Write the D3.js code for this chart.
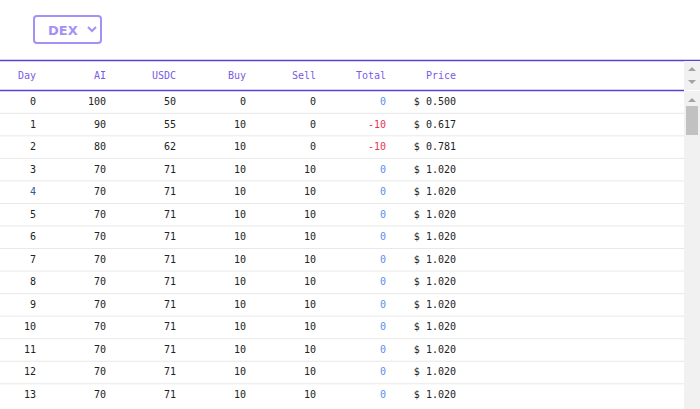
<!DOCTYPE html>
<html><head><meta charset="utf-8">
<script src="https://cdn.jsdelivr.net/npm/d3@7"></script>
<style>body{margin:0;background:#fff}</style>
</head><body>
<script>
// table data
var columns = ["Day","AI","USDC","Buy","Sell","Total","Price"];
var days  = [0,1,2,3,4,5,6,7,8,9,10,11,12,13];
var ai    = [100,90,80,70,70,70,70,70,70,70,70,70,70,70];
var usdc  = [50,55,62,71,71,71,71,71,71,71,71,71,71,71];
var buy   = [0,10,10,10,10,10,10,10,10,10,10,10,10,10];
var sell  = [0,0,0,10,10,10,10,10,10,10,10,10,10,10];
var total = [0,-10,-10,0,0,0,0,0,0,0,0,0,0,0];
var price = [0.500,0.617,0.781,1.020,1.020,1.020,1.020,1.020,1.020,1.020,1.020,1.020,1.020,1.020];

var W = 700, H = 409;
var svg = d3.select("body").append("svg").attr("width",W).attr("height",H);
var mono = "'DejaVu Sans Mono', monospace";

// dropdown
svg.append("rect").attr("x",34).attr("y",16).attr("width",67).attr("height",27).attr("rx",3)
  .attr("fill","#fff").attr("stroke","#a590f7").attr("stroke-width",2);
svg.append("text").attr("x",48).attr("y",35).text("DEX")
  .attr("font-family","'DejaVu Sans', sans-serif").attr("font-weight","bold").attr("font-size",13).attr("fill","#a590f7");
svg.append("path").attr("d","M88,27 l4,4 l4,-4").attr("fill","none").attr("stroke","#a590f7").attr("stroke-width",2);

// column right edges
var x = d3.scalePoint().domain(columns).range([36,456]);
var y = d3.scaleLinear().domain([0,13]).range([101,394]);

svg.append("line").attr("x1",0).attr("x2",W).attr("y1",60.5).attr("y2",60.5).attr("stroke","#5b3fd6").attr("stroke-width",1.5);
svg.append("line").attr("x1",0).attr("x2",684).attr("y1",90.5).attr("y2",90.5).attr("stroke","#5b3fd6").attr("stroke-width",1.5);

svg.selectAll(".hd").data(columns).enter().append("text")
  .attr("x",function(d){return x(d);}).attr("y",79).attr("text-anchor","end")
  .attr("font-family",mono).attr("font-size",10).attr("fill","#7a5ae6").text(function(d){return d;});

var rows = days.map(function(d,i){
  return {i:i, vals:[d,ai[i],usdc[i],buy[i],sell[i],total[i],"$ "+price[i].toFixed(3)]};
});

var g = svg.selectAll(".row").data(rows).enter().append("g")
  .attr("transform",function(d){return "translate(0,"+y(d.i)+")";});
g.filter(function(d){return d.i<13;}).append("line").attr("x1",0).attr("x2",684).attr("y1",12.3).attr("y2",12.3)
  .attr("stroke","#e8e8e8");
g.selectAll("text").data(function(d){return d.vals.map(function(v,k){return {v:v,k:k,r:d.i};});})
  .enter().append("text")
  .attr("x",function(d){return x(columns[d.k]);}).attr("y",4).attr("text-anchor","end")
  .attr("font-family",mono).attr("font-size",10)
  .attr("fill",function(d){
    if(d.k==5) return d.v<0 ? "#e8335a" : "#5b8def";
    if(d.k==0 && d.r==4) return "#2a5a9a";
    return "#222";})
  .text(function(d){return d.v;});

// scrollbars
svg.append("rect").attr("x",684).attr("y",61).attr("width",16).attr("height",29).attr("fill","#f1f1f1");
svg.append("rect").attr("x",684).attr("y",91).attr("width",16).attr("height",318).attr("fill","#f1f1f1");
svg.append("path").attr("d","M688,71 l4,-4 l4,4z").attr("fill","#a3a3a3");
svg.append("path").attr("d","M688,80 l4,4 l4,-4z").attr("fill","#a3a3a3");
svg.append("path").attr("d","M688,102 l4,-4 l4,4z").attr("fill","#a3a3a3");
svg.append("rect").attr("x",686).attr("y",106).attr("width",12).attr("height",29).attr("fill","#c1c1c1");
</script>
</body></html>
